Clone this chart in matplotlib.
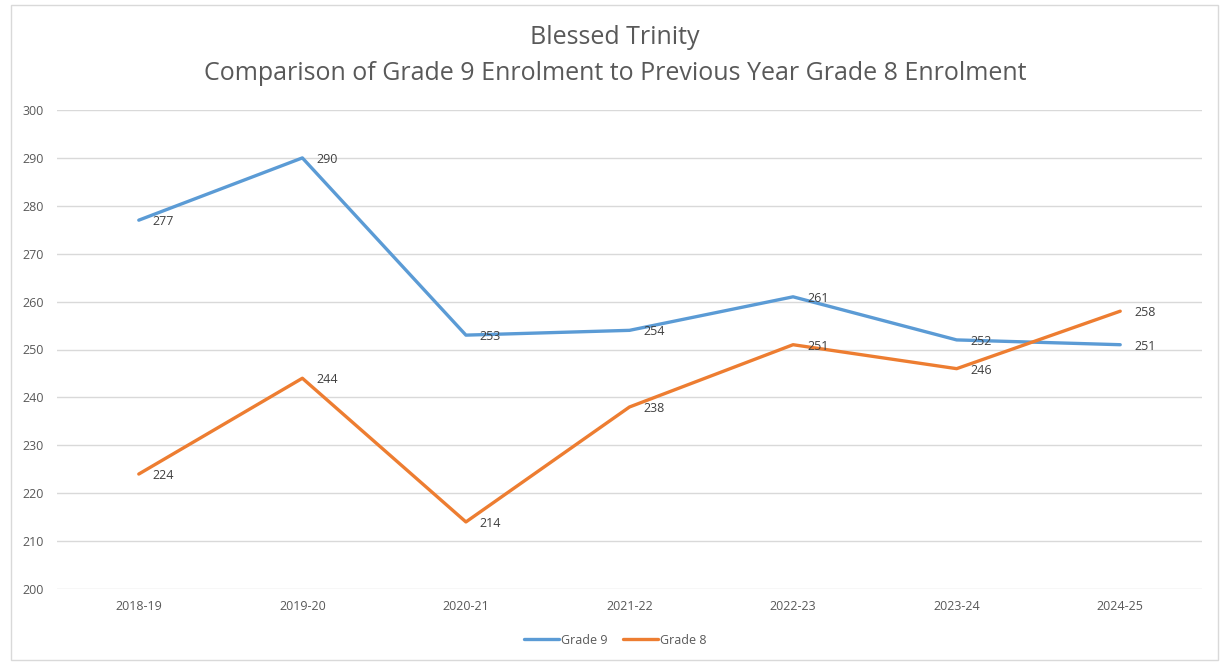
import matplotlib
matplotlib.use("Agg")
import matplotlib.pyplot as plt
from matplotlib.patches import Rectangle

years = ["2018-19", "2019-20", "2020-21", "2021-22", "2022-23", "2023-24", "2024-25"]
grade9 = [277, 290, 253, 254, 261, 252, 251]
grade8 = [224, 244, 214, 238, 251, 246, 258]

plt.rcParams['font.family'] = ['Open Sans', 'DejaVu Sans']

fig = plt.figure(figsize=(12.26, 6.63), dpi=100)
fig.patches.append(Rectangle((11/1226, 3/663), 1207/1226, 655/663, transform=fig.transFigure,
                             fill=False, edgecolor='#D9D9D9', linewidth=1))
ax = fig.add_axes([57/1226, 1 - 589/663, 1145/1226, 479/663])

x = list(range(len(years)))
ax.plot(x, grade9, color='#5B9BD5', linewidth=2.4, label='Grade 9', solid_capstyle='round')
ax.plot(x, grade8, color='#ED7D31', linewidth=2.4, label='Grade 8', solid_capstyle='round')

for xi, v in zip(x, grade9):
    ax.annotate(str(v), (xi, v), xytext=(10, -1), textcoords='offset points',
                ha='left', va='center', fontsize=9, color='#404040')
for xi, v in zip(x, grade8):
    ax.annotate(str(v), (xi, v), xytext=(10, -1), textcoords='offset points',
                ha='left', va='center', fontsize=9, color='#404040')

ax.set_xlim(-0.5, len(years) - 0.5)
ax.set_ylim(200, 300)
ax.set_yticks(range(200, 301, 10))
ax.set_xticks(x)
ax.set_xticklabels(years)
ax.tick_params(axis='both', length=0, labelsize=9, labelcolor='#595959')
ax.tick_params(axis='y', pad=9.5)
ax.tick_params(axis='x', pad=8)
ax.grid(axis='y', color='#D9D9D9', linewidth=1)
ax.set_axisbelow(True)
for s in ax.spines.values():
    s.set_visible(False)

fig.text(615/1226, 1 - 37/663, "Blessed Trinity", ha='center', va='center', fontsize=18, color='#595959')
fig.text(615/1226, 1 - 73/663, "Comparison of Grade 9 Enrolment to Previous Year Grade 8 Enrolment",
         ha='center', va='center', fontsize=18, color='#595959')

leg = fig.legend(loc='center', bbox_to_anchor=(615/1226, 1 - 640/663), ncol=2, frameon=False,
                 fontsize=9, handlelength=2.8, handletextpad=0.2, columnspacing=1.2)
for t in leg.get_texts():
    t.set_color('#595959')

fig.savefig("out.png", dpi=100)
